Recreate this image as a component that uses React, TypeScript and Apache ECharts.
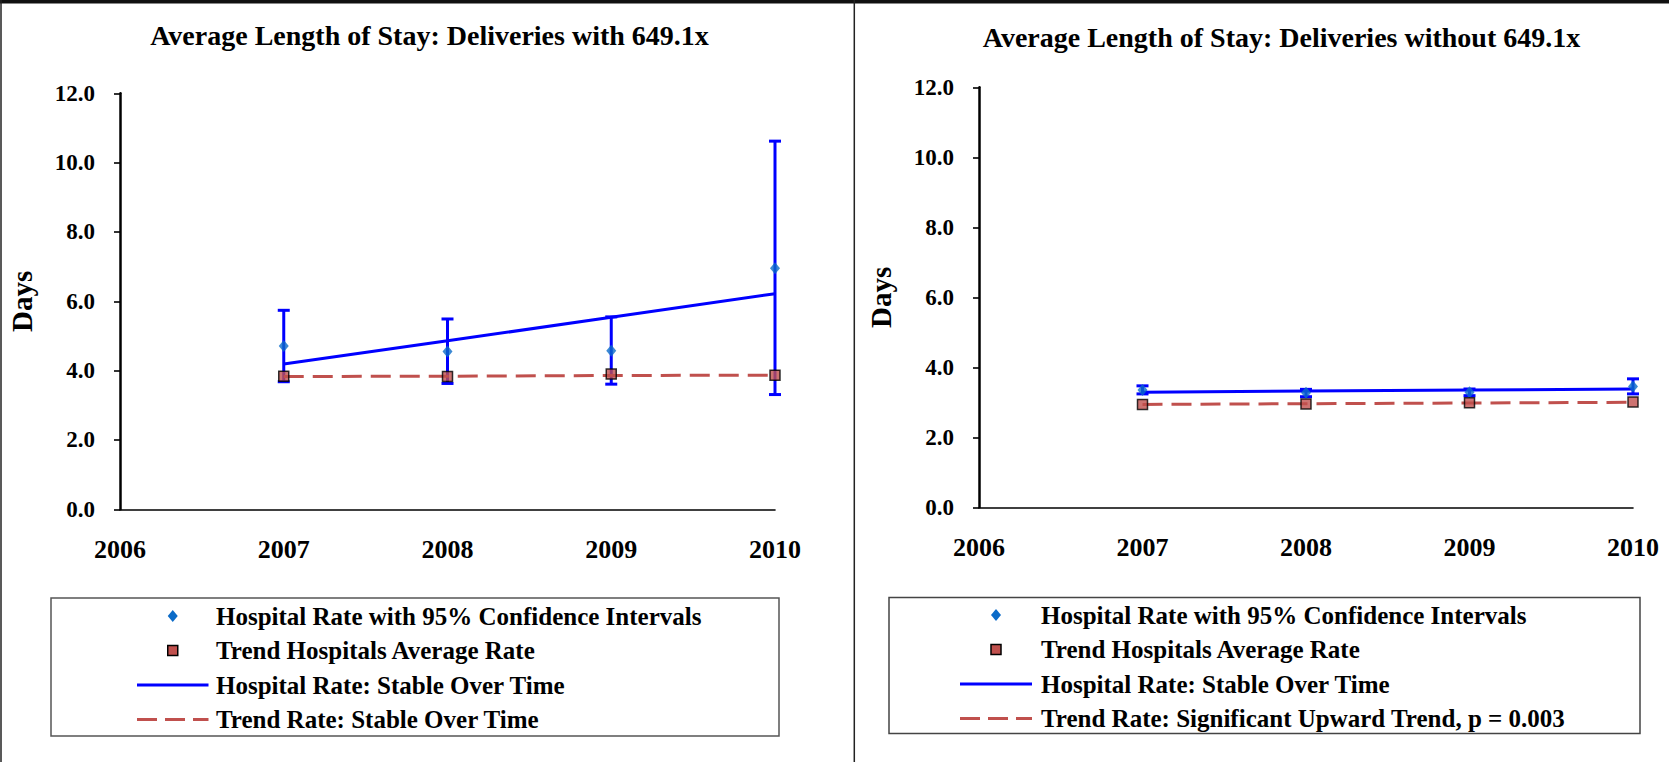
import React, { useEffect, useRef } from "react";
import * as echarts from "echarts";

// ---- data ----
const years = ["2006", "2007", "2008", "2009", "2010"];

// Left panel: Deliveries with 649.1x
const withRate = [null, 4.71, 4.55, 4.57, 6.95];
const withUpper = [null, 5.74, 5.49, 5.55, 10.62];
const withLower = [null, 3.68, 3.63, 3.61, 3.31];
const withTrendAvg = [null, 3.84, 3.83, 3.9, 3.87];
const withRateFit = [null, 4.19, 4.86, 5.54, 6.22];
const withTrendFit = [null, 3.83, 3.84, 3.86, 3.87];

// Right panel: Deliveries without 649.1x
const withoutRate = [null, 3.35, 3.27, 3.29, 3.45];
const withoutUpper = [null, 3.47, 3.37, 3.38, 3.67];
const withoutLower = [null, 3.24, 3.16, 3.19, 3.24];
const withoutTrendAvg = [null, 2.94, 2.95, 2.99, 3.01];
const withoutRateFit = [null, 3.29, 3.32, 3.35, 3.38];
const withoutTrendFit = [null, 2.94, 2.96, 2.98, 3.0];

const titleLeft = "Average Length of Stay: Deliveries with 649.1x";
const titleRight = "Average Length of Stay: Deliveries without 649.1x";
const nameRate = "Hospital Rate with 95% Confidence Intervals";
const nameAvg = "Trend Hospitals Average Rate";
const nameRateFit = "Hospital Rate: Stable Over Time";
const nameTrendFitLeft = "Trend Rate: Stable Over Time";
const nameTrendFitRight = "Trend Rate: Significant Upward Trend, p = 0.003";

const FONT = "'Liberation Serif', 'Times New Roman', serif";
const BLUE = "#0000FF";
const DIAMOND = "#0B6BC8";
const RED = "#C0504D";

const pairs = (arr: (number | null)[]) =>
  years.map((y, i) => [y, arr[i]]).filter((p) => p[1] !== null);

const ciData = (lo: (number | null)[], hi: (number | null)[]) =>
  years
    .map((y, i) => [i, lo[i], hi[i]])
    .filter((p) => p[1] !== null && p[2] !== null);

const errorBarRender = (params: any, api: any) => {
  const x = api.value(0);
  const lo = api.coord([x, api.value(1)]);
  const hi = api.coord([x, api.value(2)]);
  const hw = 6;
  const style = { stroke: BLUE, lineWidth: 3, fill: "none" };
  return {
    type: "group",
    children: [
      { type: "line", shape: { x1: lo[0], y1: lo[1], x2: hi[0], y2: hi[1] }, style },
      { type: "line", shape: { x1: lo[0] - hw, y1: lo[1], x2: lo[0] + hw, y2: lo[1] }, style },
      { type: "line", shape: { x1: hi[0] - hw, y1: hi[1], x2: hi[0] + hw, y2: hi[1] }, style },
    ],
  };
};

const xAxisBase = (gridIndex: number) => ({
  type: "category",
  gridIndex,
  data: years,
  boundaryGap: false,
  axisLine: { show: true, lineStyle: { color: "#000", width: 1.6 } },
  axisTick: { show: false },
  axisLabel: {
    color: "#000",
    fontFamily: FONT,
    fontWeight: "bold",
    fontSize: 26,
    margin: 27,
    interval: 0,
  },
  splitLine: { show: false },
});

const yAxisBase = (gridIndex: number) => ({
  type: "value",
  gridIndex,
  min: 0,
  max: 12,
  interval: 2,
  name: "Days",
  nameLocation: "middle",
  nameGap: 84,
  nameRotate: 90,
  nameTextStyle: { color: "#000", fontFamily: FONT, fontWeight: "bold", fontSize: 29 },
  axisLine: { show: true, lineStyle: { color: "#000", width: 2.5 } },
  axisTick: { show: true, length: 6, inside: false, lineStyle: { color: "#000", width: 1.6 } },
  axisLabel: {
    color: "#000",
    fontFamily: FONT,
    fontWeight: "bold",
    fontSize: 23,
    margin: 25,
    formatter: (v: number) => v.toFixed(1),
  },
  splitLine: { show: false },
});

const panelSeries = (
  idx: number,
  rate: (number | null)[],
  lo: (number | null)[],
  hi: (number | null)[],
  avg: (number | null)[],
  rateFit: (number | null)[],
  trendFit: (number | null)[],
  trendName: string
) => [
  {
    name: "CI" + idx,
    type: "custom",
    xAxisIndex: idx,
    yAxisIndex: idx,
    renderItem: errorBarRender,
    encode: { x: 0, y: [1, 2] },
    data: ciData(lo, hi),
    z: 2,
  },
  {
    name: nameRateFit,
    type: "line",
    xAxisIndex: idx,
    yAxisIndex: idx,
    symbol: "none",
    lineStyle: { color: BLUE, width: 3, type: "solid" },
    itemStyle: { color: BLUE },
    data: pairs(rateFit),
    z: 3,
  },
  {
    name: nameRate,
    type: "scatter",
    xAxisIndex: idx,
    yAxisIndex: idx,
    symbol: "diamond",
    symbolSize: [10, 12],
    itemStyle: { color: DIAMOND },
    data: pairs(rate),
    z: 4,
  },
  {
    name: trendName,
    type: "line",
    xAxisIndex: idx,
    yAxisIndex: idx,
    symbol: "none",
    lineStyle: { color: RED, width: 3, type: [20, 9] },
    itemStyle: { color: RED },
    data: pairs(trendFit),
    z: 5,
  },
  {
    name: nameAvg,
    type: "scatter",
    xAxisIndex: idx,
    yAxisIndex: idx,
    symbol: "rect",
    symbolSize: 10,
    itemStyle: { color: RED, borderColor: "#000", borderWidth: 1.5 },
    data: pairs(avg),
    z: 6,
  },
];

// legend drawn as graphic elements (icon + real text per row)
const legendGraphic = (
  iconLeft: number,
  iconRight: number,
  textX: number,
  rowsY: number[],
  labels: string[]
) => {
  const cx = (iconLeft + iconRight) / 2;
  const els: any[] = [];
  // row 0: diamond
  els.push({
    type: "polygon",
    shape: { points: [[cx, rowsY[0] - 6], [cx + 5, rowsY[0]], [cx, rowsY[0] + 6], [cx - 5, rowsY[0]]] },
    style: { fill: DIAMOND },
    silent: true,
  });
  // row 1: square
  els.push({
    type: "rect",
    shape: { x: cx - 5, y: rowsY[1] - 5, width: 10, height: 10 },
    style: { fill: RED, stroke: "#000", lineWidth: 1.5 },
    silent: true,
  });
  // row 2: solid blue line
  els.push({
    type: "line",
    shape: { x1: iconLeft, y1: rowsY[2], x2: iconRight, y2: rowsY[2] },
    style: { stroke: BLUE, lineWidth: 3 },
    silent: true,
  });
  // row 3: dashed red line
  els.push({
    type: "line",
    shape: { x1: iconLeft, y1: rowsY[3], x2: iconRight, y2: rowsY[3] },
    style: { stroke: RED, lineWidth: 3, lineDash: [20, 8] },
    silent: true,
  });
  labels.forEach((t, i) => {
    els.push({
      type: "text",
      x: textX,
      y: rowsY[i],
      style: {
        text: t,
        fill: "#000",
        font: `bold 25px ${FONT}`,
        align: "left",
        verticalAlign: "middle",
      },
      silent: true,
    });
  });
  return els;
};

export default function App() {
  const ref = useRef<HTMLDivElement>(null);

  useEffect(() => {
    if (!ref.current) return;
    const chart = echarts.init(ref.current, undefined, { renderer: "svg" });
    const titleStyle = { color: "#000", fontFamily: FONT, fontWeight: "bold", fontSize: 28 };
    chart.setOption({
      animation: false,
      backgroundColor: "#fff",
      title: [
        { text: titleLeft, left: 429.5, top: 35, textAlign: "center", textVerticalAlign: "middle", padding: 0, textStyle: titleStyle },
        { text: titleRight, left: 1281.5, top: 37, textAlign: "center", textVerticalAlign: "middle", padding: 0, textStyle: titleStyle },
      ],
      grid: [
        { left: 120, top: 93.3, width: 655, height: 416, containLabel: false },
        { left: 979, top: 87.3, width: 654, height: 420, containLabel: false },
      ],
      xAxis: [xAxisBase(0), xAxisBase(1)],
      yAxis: [yAxisBase(0), yAxisBase(1)],
      series: [
        ...panelSeries(0, withRate, withLower, withUpper, withTrendAvg, withRateFit, withTrendFit, nameTrendFitLeft),
        ...panelSeries(1, withoutRate, withoutLower, withoutUpper, withoutTrendAvg, withoutRateFit, withoutTrendFit, nameTrendFitRight),
      ],
      graphic: [
        { type: "rect", shape: { x: 0, y: 0, width: 1669, height: 3.5 }, style: { fill: "#111" }, silent: true },
        { type: "line", shape: { x1: 1, y1: 0, x2: 1, y2: 762 }, style: { stroke: "#222", lineWidth: 1.5 }, silent: true },
        { type: "line", shape: { x1: 854.3, y1: 0, x2: 854.3, y2: 762 }, style: { stroke: "#222", lineWidth: 1.5 }, silent: true },
        { type: "rect", shape: { x: 51, y: 598, width: 728, height: 138 }, style: { fill: "none", stroke: "#555", lineWidth: 1.5 }, silent: true },
        { type: "rect", shape: { x: 889, y: 597.5, width: 751, height: 136 }, style: { fill: "none", stroke: "#444", lineWidth: 1.5 }, silent: true },
        ...legendGraphic(137, 208.5, 216, [616, 650.5, 685, 719.5], [nameRate, nameAvg, nameRateFit, nameTrendFitLeft]),
        ...legendGraphic(960, 1032, 1041, [615, 649.5, 684, 718.5], [nameRate, nameAvg, nameRateFit, nameTrendFitRight]),
      ],
    });
    return () => chart.dispose();
  }, []);

  return (
    <div
      ref={ref}
      style={{ position: "absolute", left: 0, top: 0, width: 1669, height: 762, background: "#fff" }}
    />
  );
}
